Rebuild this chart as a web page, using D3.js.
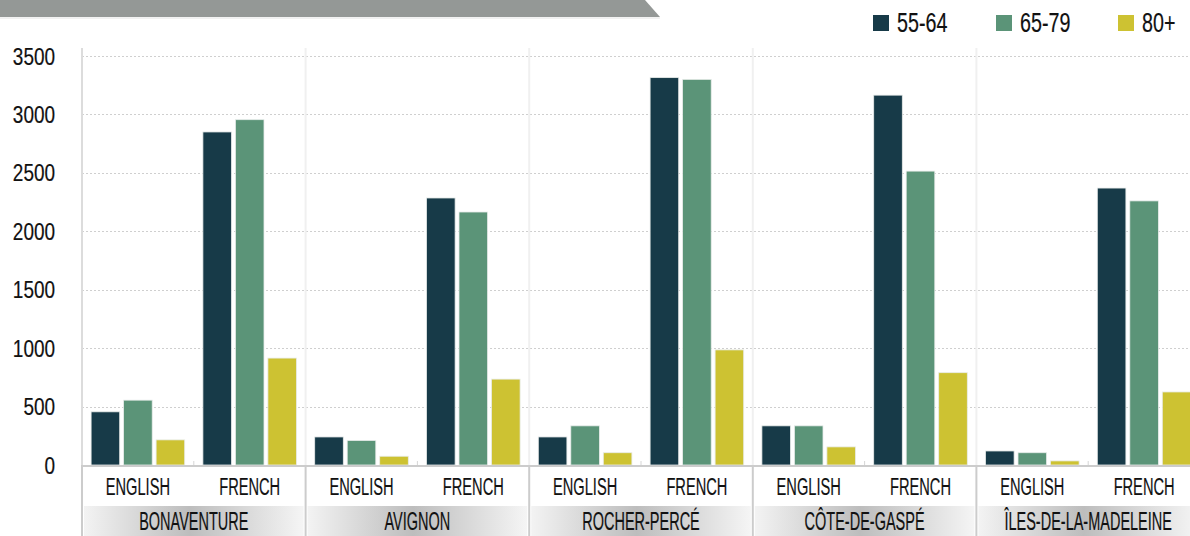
<!DOCTYPE html>
<html>
<head>
<meta charset="utf-8">
<script src="https://cdn.jsdelivr.net/npm/d3@7"></script>
<style>
  body { margin: 0; background: #fff; }
  svg { display: block; font-family: "Liberation Sans", Arial, sans-serif; }
  .lbl { fill: #111; stroke: #111; stroke-width: 0.2px; }
</style>
</head>
<body>
<script>
// data
var regions = ["BONAVENTURE", "AVIGNON", "ROCHER-PERCÉ", "CÔTE-DE-GASPÉ", "ÎLES-DE-LA-MADELEINE"];
var languages = ["ENGLISH", "FRENCH"];
var ageGroups = ["55-64", "65-79", "80+"];
var yTicks = [0, 500, 1000, 1500, 2000, 2500, 3000, 3500];

// one array per age group, order: region x language (english, french)
var age5564 = [455, 2850, 240, 2285, 240, 3315, 335, 3165, 120, 2370];
var age6579 = [555, 2955, 210, 2165, 335, 3300, 335, 2515, 105, 2260];
var age80   = [215, 915, 75, 735, 105, 985, 155, 790, 35, 625];

var colors = ["#173a48", "#5b9478", "#cdc232"];

var W = 1190, H = 536;
var left = 82, right = 1200, baseY = 465, topY = 56;

var svg = d3.select("body").append("svg")
    .attr("width", W)
    .attr("height", H);

// build rows
var series = [age5564, age6579, age80];
var rows = [];
regions.forEach(function (r, ri) {
  languages.forEach(function (l, li) {
    ageGroups.forEach(function (a, ai) {
      rows.push({ region: r, lang: l, age: a, value: series[ai][ri * 2 + li] });
    });
  });
});

var x0 = d3.scaleBand().domain(regions).range([left, right]);
var x1 = d3.scaleBand().domain(languages).range([0, x0.bandwidth()]);
var x2 = d3.scaleBand().domain(ageGroups).range([0, x1.bandwidth()])
    .paddingInner(0.12).paddingOuter(0.28);
var y = d3.scaleLinear().domain([0, 3500]).range([baseY, topY]);
var color = d3.scaleOrdinal().domain(ageGroups).range(colors);

// gradient for region strip
var defs = svg.append("defs");
var grad = defs.append("linearGradient").attr("id", "strip");
grad.append("stop").attr("offset", "0%").attr("stop-color", "#f3f3f3");
grad.append("stop").attr("offset", "48%").attr("stop-color", "#bdbdbd");
grad.append("stop").attr("offset", "100%").attr("stop-color", "#f5f5f5");

// header shape
svg.append("path")
    .attr("d", "M0,0 L645,0 L660,17 L0,17 Z")
    .attr("fill", "#949896");
svg.append("line")
    .attr("x1", 0).attr("x2", 660).attr("y1", 18).attr("y2", 18)
    .attr("stroke", "#e4e4e4").attr("stroke-width", 1);

// gridlines
svg.append("g").selectAll("line")
  .data(yTicks.slice(1))
  .enter().append("line")
    .attr("x1", left).attr("x2", W)
    .attr("y1", function (d) { return Math.round(y(d)) + 0.5; })
    .attr("y2", function (d) { return Math.round(y(d)) + 0.5; })
    .attr("stroke", "#cfcfcf")
    .attr("stroke-dasharray", "2,2");

// region separators inside plot
svg.append("g").selectAll("line")
  .data(regions)
  .enter().append("line")
    .attr("x1", function (d) { return x0(d); })
    .attr("x2", function (d) { return x0(d); })
    .attr("y1", 48).attr("y2", baseY)
    .attr("stroke", function (d, i) { return i === 0 ? "#dcdcdc" : "#f0f0f0"; })
    .attr("stroke-width", 2);

// region strip
svg.append("g").selectAll("rect")
  .data(regions)
  .enter().append("rect")
    .attr("x", function (d) { return x0(d) + 2; })
    .attr("y", 506)
    .attr("width", x0.bandwidth() - 4)
    .attr("height", H - 506)
    .attr("fill", "url(#strip)");

// separators below baseline
svg.append("g").selectAll("line")
  .data(regions)
  .enter().append("line")
    .attr("x1", function (d) { return x0(d); })
    .attr("x2", function (d) { return x0(d); })
    .attr("y1", baseY).attr("y2", H)
    .attr("stroke", "#cccccc")
    .attr("stroke-width", 2);

// bars
svg.append("g").selectAll("rect")
  .data(rows)
  .enter().append("rect")
    .attr("x", function (d) { return x0(d.region) + x1(d.lang) + x2(d.age); })
    .attr("y", function (d) { return y(d.value); })
    .attr("width", x2.bandwidth())
    .attr("height", function (d) { return baseY - y(d.value); })
    .attr("fill", function (d) { return color(d.age); })
    .attr("stroke", "#e8ecea")
    .attr("stroke-width", 0.8);

// baseline
svg.append("line")
    .attr("x1", left).attr("x2", W)
    .attr("y1", baseY + 1).attr("y2", baseY + 1)
    .attr("stroke", "#cccccc").attr("stroke-width", 2);

// small ticks between languages
svg.append("g").selectAll("line")
  .data(regions)
  .enter().append("line")
    .attr("x1", function (d) { return x0(d) + x1("FRENCH"); })
    .attr("x2", function (d) { return x0(d) + x1("FRENCH"); })
    .attr("y1", baseY - 4).attr("y2", baseY)
    .attr("stroke", "#d6d6d6");

// y tick labels
svg.append("g").selectAll("text")
  .data(yTicks)
  .enter().append("text")
    .attr("class", "lbl")
    .attr("transform", function (d) { return "translate(55," + (y(d) + 8.5) + ") scale(0.79,1)"; })
    .attr("text-anchor", "end")
    .style("font-size", "24px")
    .text(function (d) { return d; });

// language labels
var langLabels = [];
regions.forEach(function (r) {
  languages.forEach(function (l) { langLabels.push({ region: r, lang: l }); });
});
svg.append("g").selectAll("text")
  .data(langLabels)
  .enter().append("text")
    .attr("class", "lbl")
    .attr("transform", function (d) {
      return "translate(" + (x0(d.region) + x1(d.lang) + x1.bandwidth() / 2) + ",495) scale(0.61,1)";
    })
    .attr("text-anchor", "middle")
    .style("font-size", "24px")
    .text(function (d) { return d.lang; });

// region labels
svg.append("g").selectAll("text")
  .data(regions)
  .enter().append("text")
    .attr("class", "lbl")
    .attr("transform", function (d) {
      return "translate(" + (x0(d) + x0.bandwidth() / 2) + ",530) scale(0.58,1)";
    })
    .attr("text-anchor", "middle")
    .style("font-size", "25px")
    .text(function (d) { return d; });

// legend
var legendX = [873, 996, 1118];
var legend = svg.append("g").selectAll("g")
  .data(ageGroups)
  .enter().append("g")
    .attr("transform", function (d, i) { return "translate(" + legendX[i] + ",15)"; });
legend.append("rect")
    .attr("width", 16).attr("height", 16)
    .attr("fill", function (d) { return color(d); });
legend.append("text")
    .attr("class", "lbl")
    .attr("transform", "translate(24,17) scale(0.73,1)")
    .style("font-size", "27px")
    .text(function (d) { return d; });
</script>
</body>
</html>
